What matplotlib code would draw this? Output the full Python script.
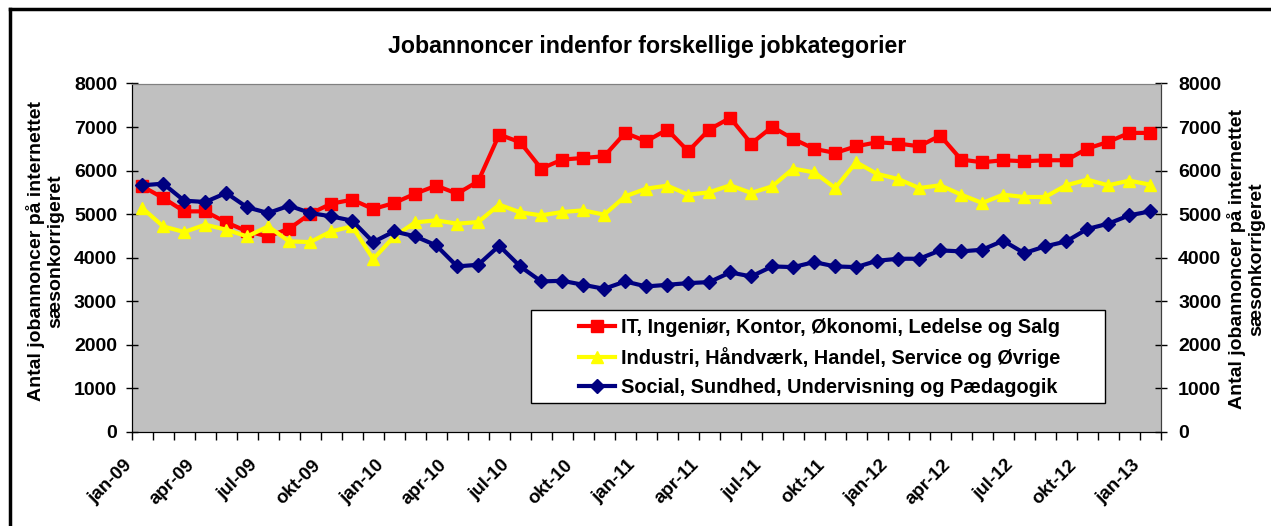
import matplotlib
matplotlib.use("Agg")
import matplotlib.pyplot as plt
from matplotlib.lines import Line2D
from matplotlib.patches import Rectangle
import matplotlib.transforms as mtransforms
import numpy as np

plt.rcParams['font.family'] = ['Liberation Sans', 'DejaVu Sans']
plt.rcParams['font.weight'] = 'bold'

months = ["jan", "feb", "mar", "apr", "maj", "jun", "jul", "aug", "sep", "okt", "nov", "dec"]
categories = [f"{months[m]}-{y:02d}" for y in range(9, 14) for m in range(12)][:49]

it_salg = [5640, 5372, 5065, 5065, 4812, 4605, 4490, 4667, 5011, 5241, 5333, 5119, 5257, 5471, 5655, 5471, 5755,
           6828, 6651, 6046, 6253, 6291, 6330, 6866, 6674, 6943, 6444, 6943, 7211, 6621, 7004, 6728, 6500,
           6406, 6559, 6651, 6621, 6559, 6805, 6253, 6192, 6238, 6215, 6238, 6238, 6506, 6659, 6866, 6866]
industri = [5142, 4720, 4590, 4759, 4644, 4490, 4720, 4375, 4360, 4605, 4720, 3969, 4490, 4812, 4858, 4782, 4820,
            5218, 5042, 4973, 5050, 5088, 4989, 5410, 5586, 5655, 5448, 5502, 5663, 5487, 5640, 6046, 5960,
            5601, 6192, 5923, 5808, 5601, 5663, 5448, 5257, 5448, 5395, 5395, 5663, 5793, 5663, 5770, 5678]
social = [5663, 5701, 5310, 5280, 5487, 5157, 5027, 5195, 5027, 4950, 4851, 4360, 4605, 4490, 4284, 3801, 3839,
          4276, 3801, 3456, 3471, 3379, 3287, 3456, 3341, 3379, 3418, 3441, 3663, 3571, 3801, 3785, 3900,
          3801, 3785, 3931, 3977, 3977, 4169, 4146, 4184, 4391, 4107, 4261, 4375, 4659, 4782, 4973, 5065]

series_names = ["IT, Ingeniør, Kontor, Økonomi, Ledelse og Salg",
                "Industri, Håndværk, Handel, Service og Øvrige",
                "Social, Sundhed, Undervisning og Pædagogik"]
title = "Jobannoncer indenfor forskellige jobkategorier"
ylabel = "Antal jobannoncer på internettet\nsæsonkorrigeret"
yticks = [0, 1000, 2000, 3000, 4000, 5000, 6000, 7000, 8000]

W, H = 1271, 526
L, R, T, B = 131.7, 1160.7, 83.5, 432.0
fig = plt.figure(figsize=(W / 100, H / 100), dpi=100)
ax = fig.add_axes([L / W, 1 - B / H, (R - L) / W, (B - T) / H])
ax.set_facecolor('#C0C0C0')

x = np.arange(len(categories))
styles = [
    dict(color='#FF0000', marker='s', markersize=8),
    dict(color='#FFFF00', marker='^', markersize=9),
    dict(color='#000080', marker='D', markersize=7),
]
handles = []
for vals, st, name in zip([it_salg, industri, social], styles, series_names):
    h, = ax.plot(x, vals, lw=3, label=name, markeredgewidth=1, **st)
    handles.append(h)

ax.set_xlim(-0.5, len(categories) - 0.5)
ax.set_ylim(0, 8000)
ax.set_yticks(yticks)
ax.set_yticklabels([str(v) for v in yticks], fontsize=14, fontweight='bold')
ax.tick_params(axis='y', direction='inout', length=9, width=1, pad=6)

ax.set_xticks(np.arange(-0.5, len(categories), 1), minor=True)
ax.set_xticks(x[::3])
ax.set_xticklabels(categories[::3], rotation=45, ha='right', va='center', rotation_mode='anchor',
                   fontsize=13.5, fontweight='bold')
ax.tick_params(axis='x', which='major', length=0, pad=22)
ax.tick_params(axis='x', which='minor', direction='out', length=6, width=1)
offset = mtransforms.ScaledTranslation(-13 / 100, 0, fig.dpi_scale_trans)
for lab in ax.get_xticklabels():
    lab.set_transform(lab.get_transform() + offset)

ax.spines['top'].set_color('#808080')
ax.spines['right'].set_color('#404040')
ax.spines['left'].set_color('black')
ax.spines['bottom'].set_color('black')

ax2 = ax.twinx()
ax2.set_ylim(0, 8000)
ax2.set_yticks(yticks)
ax2.set_yticklabels([str(v) for v in yticks], fontsize=14, fontweight='bold')
ax2.tick_params(axis='y', direction='inout', length=9, width=1, pad=8)
ax2.spines['right'].set_color('#404040')
ax2.spines['top'].set_color('#808080')

fig.text(45 / W, 1 - 251 / H, ylabel, rotation=90, ha='center', va='center',
         fontsize=14, fontweight='bold', linespacing=1.2)
fig.text(1246 / W, 1 - 259 / H, ylabel, rotation=90, ha='center', va='center',
         fontsize=14, fontweight='bold', linespacing=1.2)
fig.text(647 / W, 1 - 46 / H, title, ha='center', va='center', fontsize=16.7, fontweight='bold')

# legend box
def px2ax(px, py):
    return (px - L) / (R - L), (B - py) / (B - T)

bx0, by0 = px2ax(531, 403)
bx1, by1 = px2ax(1105, 310)
ax.add_patch(Rectangle((bx0, by0), bx1 - bx0, by1 - by0, transform=ax.transAxes,
                       facecolor='white', edgecolor='black', lw=1, zorder=5))
lx, ly = px2ax(579, 318)
leg = ax.legend(handles=handles, loc='upper left', bbox_to_anchor=(lx, ly),
                frameon=False, prop=dict(size=14.3, weight='bold'), handlelength=1.8,
                borderpad=0, labelspacing=0.5, handletextpad=0.3, borderaxespad=0)
leg.set_zorder(6)

# outer frame (left and top edges visible)
fig.add_artist(Line2D([10 / W, 10 / W], [0, 1 - 8.5 / H], transform=fig.transFigure, color='black', lw=2.5))
fig.add_artist(Line2D([10 / W, 1], [1 - 8.5 / H, 1 - 8.5 / H], transform=fig.transFigure, color='black', lw=2.5))

fig.savefig('out.png', dpi=100)
